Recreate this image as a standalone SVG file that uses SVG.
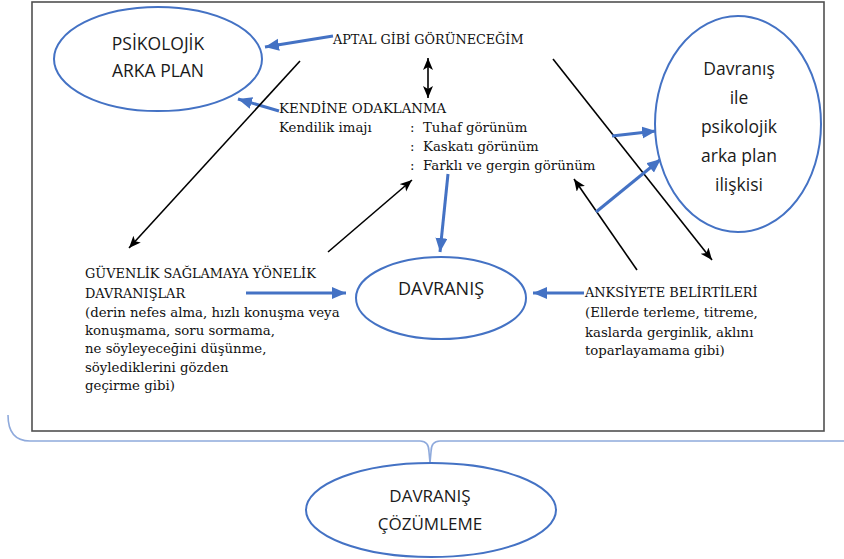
<svg xmlns="http://www.w3.org/2000/svg" width="844" height="559" viewBox="0 0 844 559">
<defs>
<style>
.ell{fill:#fff;stroke:#4472C4;stroke-width:2}
.sans{font-family:"Open Sans","Liberation Sans",sans-serif;fill:#1a1a1a}
.ser{font-family:"DejaVu Serif","Liberation Serif",serif;font-size:13.3px;fill:#111}
.cap{font-size:12.9px}
.blk{stroke:#000;stroke-width:1.6;fill:none}
.blu{stroke:#4472C4;stroke-width:3;fill:none}
</style>
<marker id="ab" markerUnits="userSpaceOnUse" markerWidth="14" markerHeight="12" refX="12" refY="5" orient="auto-start-reverse">
<path d="M0,0 L12,5 L0,10 L3,5 z" fill="#000"/>
</marker>
<marker id="au" markerUnits="userSpaceOnUse" markerWidth="16" markerHeight="14" refX="14" refY="6" orient="auto">
<path d="M0,0 L14,6 L0,12 z" fill="#4472C4"/>
</marker>
</defs>
<rect x="32" y="2" width="792" height="429" fill="#fff" stroke="#505050" stroke-width="1.6"/>

<g id="connectors">
<line class="blu" x1="333" y1="36" x2="265" y2="47" marker-end="url(#au)"/>
<line class="blu" x1="279" y1="111" x2="238" y2="99" marker-end="url(#au)"/>
<line class="blk" x1="428" y1="58" x2="428" y2="98" marker-start="url(#ab)" marker-end="url(#ab)"/>
<line class="blk" x1="300" y1="61" x2="129" y2="248" marker-end="url(#ab)"/>
<line class="blk" x1="328" y1="252" x2="412" y2="180" marker-end="url(#ab)"/>
<line class="blk" x1="553" y1="59" x2="712" y2="260" marker-end="url(#ab)"/>
<line class="blk" x1="637" y1="270" x2="574" y2="179" marker-end="url(#ab)"/>
<line class="blu" x1="448" y1="174" x2="440" y2="252" marker-end="url(#au)"/>
<line class="blu" x1="246" y1="293" x2="346" y2="293" marker-end="url(#au)"/>
<line class="blu" x1="584" y1="293" x2="533" y2="293" marker-end="url(#au)"/>
<line class="blu" x1="612" y1="136" x2="656" y2="131" marker-end="url(#au)"/>
<line class="blu" x1="596" y1="212" x2="661" y2="159" marker-end="url(#au)"/>
<path d="M8,415 Q8,441 30,441 L420,441 Q429,441 429,452 L430,463 M430,463 L431,452 Q431,441 440,441 L844,441" fill="none" stroke="#8FAADC" stroke-width="1.6"/>
</g>

<g id="psikolojik">
<ellipse class="ell" cx="158" cy="59" rx="104" ry="52"/>
<text class="sans" font-size="17.5" text-anchor="middle" x="158" y="50">PSİKOLOJİK</text>
<text class="sans" font-size="17.5" text-anchor="middle" x="158" y="77">ARKA PLAN</text>
</g>

<g id="iliski">
<ellipse class="ell" cx="738" cy="124" rx="83" ry="108"/>
<text class="sans" font-size="17.5" text-anchor="middle" x="739" y="75">Davranış</text>
<text class="sans" font-size="17.5" text-anchor="middle" x="739" y="104">ile</text>
<text class="sans" font-size="17.5" text-anchor="middle" x="739" y="133">psikolojik</text>
<text class="sans" font-size="17.5" text-anchor="middle" x="739" y="162">arka plan</text>
<text class="sans" font-size="17.5" text-anchor="middle" x="739" y="191">ilişkisi</text>
</g>

<g id="aptal">
<text class="ser" style="font-size:12.8px" x="333" y="44">APTAL GİBİ GÖRÜNECEĞİM</text>
</g>

<g id="kendine">
<text class="ser" x="279" y="113">KENDİNE ODAKLANMA</text>
<text class="ser" x="279" y="132">Kendilik imajı</text>
<text class="ser" x="410" y="132">:</text>
<text class="ser" x="423" y="132">Tuhaf görünüm</text>
<text class="ser" x="410" y="151">:</text>
<text class="ser" x="423" y="151">Kaskatı görünüm</text>
<text class="ser" x="410" y="170">:</text>
<text class="ser" x="423" y="170">Farklı ve gergin görünüm</text>
</g>

<g id="guvenlik">
<text class="ser cap" x="85" y="278">GÜVENLİK SAĞLAMAYA YÖNELİK</text>
<text class="ser cap" x="85" y="298">DAVRANIŞLAR</text>
<text class="ser" x="85" y="317">(derin nefes alma, hızlı konuşma veya</text>
<text class="ser" x="85" y="335">konuşmama, soru sormama,</text>
<text class="ser" x="85" y="353">ne söyleyeceğini düşünme,</text>
<text class="ser" x="85" y="372">söylediklerini gözden</text>
<text class="ser" x="85" y="390">geçirme gibi)</text>
</g>

<g id="davranis">
<ellipse class="ell" cx="441" cy="298" rx="85" ry="41"/>
<text class="sans" font-size="18" text-anchor="middle" x="441" y="295">DAVRANIŞ</text>
</g>

<g id="anksiyete">
<text class="ser cap" x="585" y="297">ANKSİYETE BELİRTİLERİ</text>
<text class="ser" x="585" y="317">(Ellerde terleme, titreme,</text>
<text class="ser" x="585" y="337">kaslarda gerginlik, aklını</text>
<text class="ser" x="585" y="355">toparlayamama gibi)</text>
</g>

<g id="cozumleme">
<ellipse class="ell" cx="431" cy="510" rx="125" ry="47"/>
<text class="sans" font-size="17" text-anchor="middle" x="430" y="502">DAVRANIŞ</text>
<text class="sans" font-size="17" text-anchor="middle" x="430" y="530">ÇÖZÜMLEME</text>
</g>
</svg>
